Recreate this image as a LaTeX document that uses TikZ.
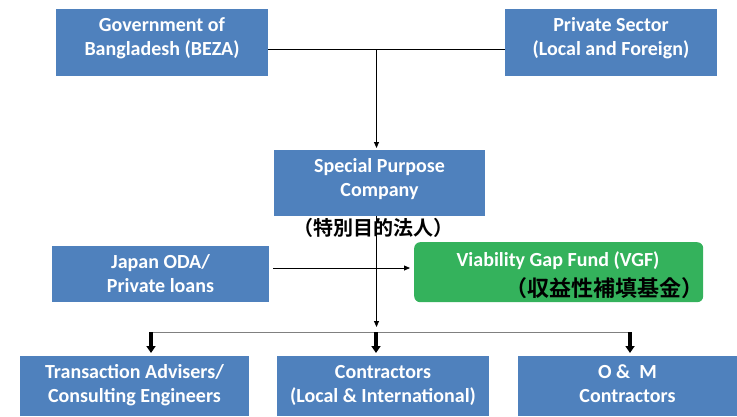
\documentclass[tikz,border=0pt]{standalone}
\usepackage{fontspec}
\setmainfont{Carlito}
\newfontfamily\jpfont{Noto Sans CJK JP Bold}
\usetikzlibrary{arrows.meta,calc}
\definecolor{boxblue}{RGB}{79,129,189}
\definecolor{boxgreen}{RGB}{52,178,92}
\definecolor{busgray}{RGB}{128,128,128}
\begin{document}
\begin{tikzpicture}[x=1pt,y=-1pt,
  box/.style={fill=boxblue, draw=none, inner sep=0pt, anchor=north west},
  gbox/.style={fill=boxgreen, draw=none, inner sep=0pt, anchor=north west, rounded corners=6pt},
  lbl/.style={text=white, font=\fontsize{20}{24}\selectfont\bfseries, anchor=base, inner sep=0pt},
  jp/.style={text=black, inner sep=0pt, anchor=base},
  conn/.style={draw=black, line width=0.8pt},
  arr/.style={conn, -{Triangle[width=5pt,length=6pt]}},
  bigarr/.style={draw=black, line width=3.5pt, -{Triangle[width=9pt,length=7pt]}},
  bus/.style={draw=busgray, line width=1pt},
]
\useasboundingbox (0,0) rectangle (737,416);

% boxes
\node[box, minimum width=212pt, minimum height=67pt] (gov) at (56,9) {};
\node[box, minimum width=212pt, minimum height=67pt] (priv) at (505,9) {};
\node[box, minimum width=211pt, minimum height=66pt] (spc) at (274,150) {};
\node[box, minimum width=217pt, minimum height=56pt] (oda) at (52,246) {};
\node[gbox, minimum width=289pt, minimum height=60pt] (vgf) at (414,242) {};
\node[box, minimum width=229pt, minimum height=60pt] (ta) at (20,356) {};
\node[box, minimum width=212pt, minimum height=60pt] (ct) at (277,356) {};
\node[box, minimum width=219pt, minimum height=60pt] (om) at (518,356) {};

% texts
\node[lbl] (gov1) at (162,31) {Government of};
\node[lbl] (gov2) at (162,55) {Bangladesh (BEZA)};
\node[lbl] (priv1) at (611,31) {Private Sector};
\node[lbl] (priv2) at (611,55) {(Local and Foreign)};
\node[lbl] (spc1) at (379.5,172) {Special Purpose};
\node[lbl] (spc2) at (379.5,196) {Company};
\node[jp, font=\fontsize{20}{24}\selectfont\jpfont] (spcjp) at (373,235.5) {（特別目的法人）};
\node[lbl] (oda1) at (160.5,268) {Japan ODA/};
\node[lbl] (oda2) at (160.5,292) {Private loans};
\node[lbl] (vgf1) at (558,266) {Viability Gap Fund (VGF)};
\node[jp, anchor=base east, font=\fontsize{22}{26}\selectfont\jpfont] (vgfjp) at (704,296) {（収益性補填基金）};
\node[lbl] (ta1) at (134.5,378) {Transaction Advisers/};
\node[lbl] (ta2) at (134.5,402) {Consulting Engineers};
\node[lbl] (ct1) at (383,378) {Contractors};
\node[lbl] (ct2) at (383,402) {(Local \& International)};
\node[lbl] (om1) at (627.5,378) {O \&\ \ M};
\node[lbl] (om2) at (627.5,402) {Contractors};

% connectors
\coordinate (j1) at (376.5,49);
\draw[conn] (gov.east |- j1) -- (priv.west |- j1);
\draw[arr, shorten >=2pt] (j1) -- (j1 |- spc.north);
\coordinate (a1) at (273,268);
\draw[arr, shorten >=4pt] (a1) -- (a1 -| vgf.west);
\coordinate (t1) at (376.5,327);
\draw[arr] (t1 |- spc.south) -- (t1);
\coordinate (bl) at (151,332);
\coordinate (bm) at (376,332);
\coordinate (br) at (630,332);
\draw[bus] (bl) -- (br);
\draw[bigarr, shorten >=3pt] (bl) -- (bl |- ta.north);
\draw[bigarr, shorten >=3pt] (bm) -- (bm |- ct.north);
\draw[bigarr, shorten >=3pt] (br) -- (br |- om.north);
\end{tikzpicture}
\end{document}
